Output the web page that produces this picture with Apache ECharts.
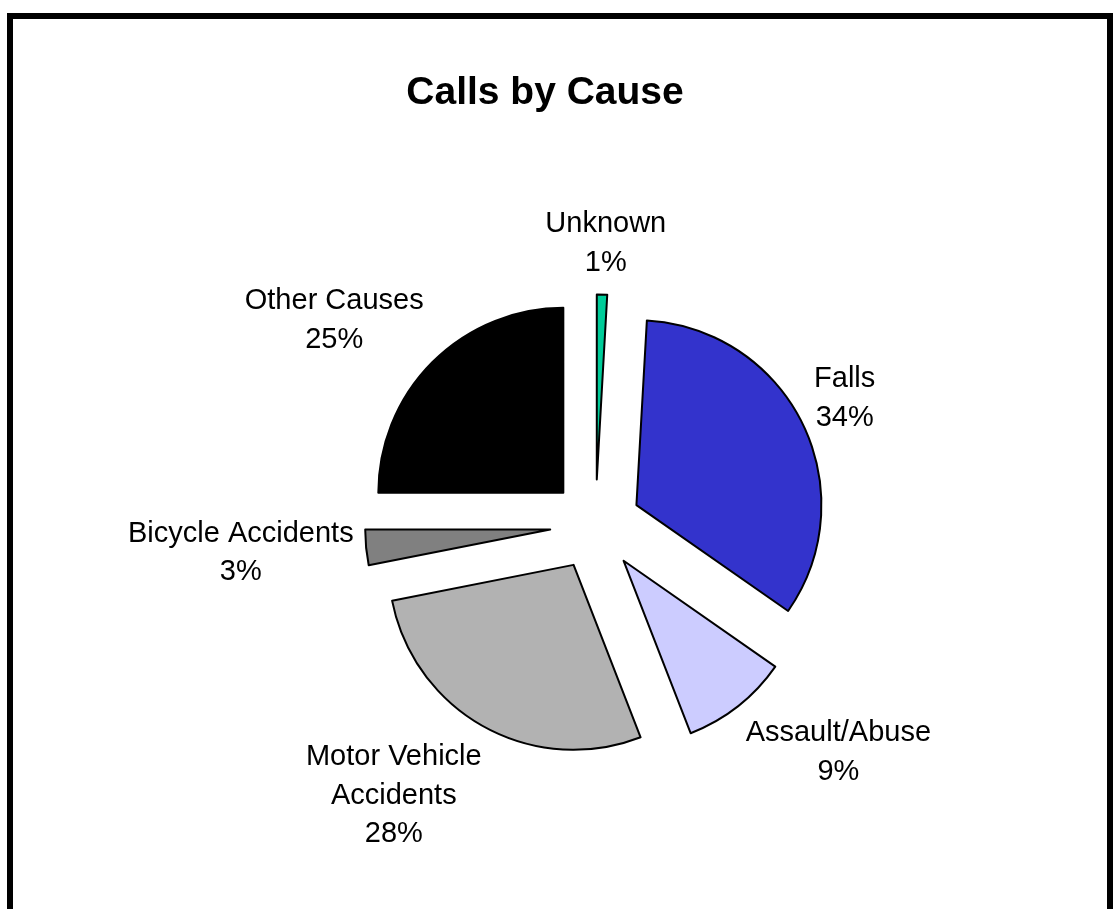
<!DOCTYPE html>
<html>
<head>
<meta charset="utf-8">
<style>
  html, body { margin: 0; padding: 0; background: #fff; }
  #chart { width: 1120px; height: 909px; }
</style>
<script src="https://cdn.jsdelivr.net/npm/echarts@6/dist/echarts.min.js"></script>
</head>
<body>
<div id="chart"></div>
<script>
// ---- data ----
const titleText = 'Calls by Cause';
const categories = ['Unknown', 'Falls', 'Assault/Abuse', 'Motor Vehicle Accidents', 'Bicycle Accidents', 'Other Causes'];
const values = [0.9, 33.8, 9.4, 27.8, 3.1, 25.0];
const colors = ['#00CC99', '#3333CC', '#CCCCFF', '#B2B2B2', '#808080', '#000000'];

// ---- layout / style ----
const CX = 595.5, CY = 525, R = 185, EXPLODE = 45.5, LABEL_GAP = 12.5;
const LABEL_FONT_SIZE = 29, LABEL_LINE_H = 38.4, LABEL_FAMILY = 'Liberation Sans';
const LABEL_FONT = LABEL_FONT_SIZE + 'px "' + LABEL_FAMILY + '"';
const WRAP_WIDTH = 240;
const KX = 2.0, KY = 1.2;

const total = values.reduce((a, b) => a + b, 0);
const midAngles = [];
{
  let cum = 0;
  values.forEach(v => {
    midAngles.push(((cum + v / 2) / total) * Math.PI * 2);
    cum += v;
  });
}

const measureCtx = document.createElement('canvas').getContext('2d');
measureCtx.font = LABEL_FONT;
function wrap(text) {
  const words = text.split(' ');
  const lines = [];
  let cur = '';
  words.forEach(w => {
    const test = cur ? cur + ' ' + w : w;
    if (cur && measureCtx.measureText(test).width > WRAP_WIDTH) {
      lines.push(cur);
      cur = w;
    } else cur = test;
  });
  if (cur) lines.push(cur);
  return lines;
}
function clamp(v) { return Math.max(-1, Math.min(1, v)); }

// labels placed outside each exploded slice, derived from the slice geometry
const labelGraphics = categories.map((c, i) => {
  const lines = wrap(c).concat([Math.round(values[i] / total * 100) + '%']);
  const w = Math.max.apply(null, lines.map(l => measureCtx.measureText(l).width));
  const h = lines.length * LABEL_LINE_H;
  const a = midAngles[i];
  const ux = Math.sin(a), uy = -Math.cos(a);
  const d = EXPLODE + R + LABEL_GAP;
  const px = CX + d * ux, py = CY + d * uy;
  return {
    type: 'text',
    x: px + clamp(KX * ux) * w / 2,
    y: py + clamp(KY * uy) * h / 2,
    silent: true,
    style: {
      text: lines.join('\n'),
      font: LABEL_FONT,
      lineHeight: LABEL_LINE_H,
      fill: '#000',
      align: 'center',
      verticalAlign: 'middle'
    }
  };
});

const chart = echarts.init(document.getElementById('chart'), null, { renderer: 'canvas' });
chart.setOption({
  animation: false,
  backgroundColor: '#fff',
  graphic: [
    {
      type: 'rect',
      shape: { x: 10, y: 16, width: 1100, height: 1000 },
      style: { fill: 'none', stroke: '#000', lineWidth: 6 },
      silent: true
    },
    {
      type: 'text',
      x: 545, y: 93,
      style: {
        text: titleText,
        font: 'bold 39px "Liberation Sans"',
        fill: '#000',
        align: 'center',
        verticalAlign: 'middle'
      },
      silent: true
    }
  ].concat(labelGraphics),
  series: [{
    type: 'pie',
    center: [CX, CY],
    radius: R,
    startAngle: 90,
    clockwise: true,
    selectedMode: 'multiple',
    selectedOffset: EXPLODE,
    avoidLabelOverlap: false,
    silent: true,
    emphasis: { scale: false },
    itemStyle: { borderColor: '#000', borderWidth: 2 },
    label: { show: false },
    labelLine: { show: false },
    data: categories.map((c, i) => ({
      name: c,
      value: values[i],
      selected: true,
      itemStyle: { color: colors[i] }
    }))
  }]
});
</script>
</body>
</html>
